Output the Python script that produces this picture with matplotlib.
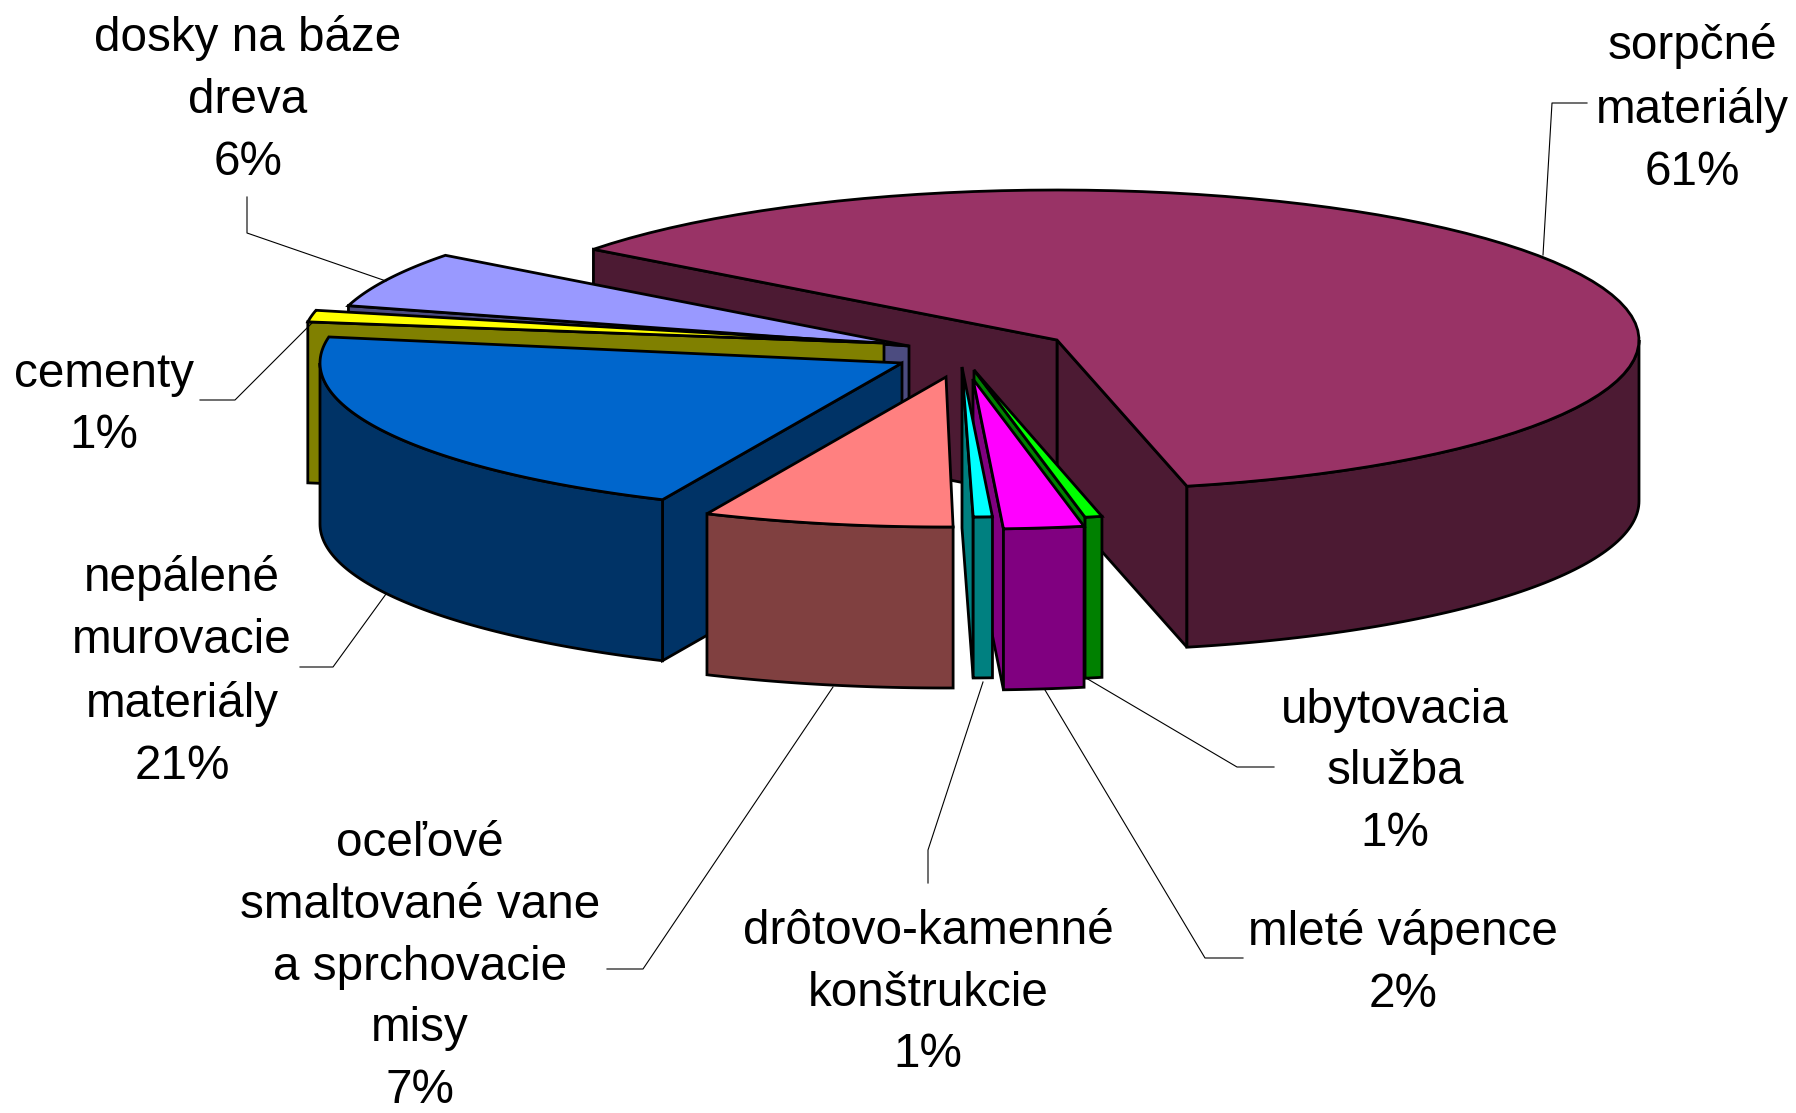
import numpy as np
from matplotlib import pyplot as plt
from matplotlib.patches import Polygon

# values in drawing order, clockwise from the big slice
labels = ["sorpčné\nmateriály", "ubytovacia\nslužba", "mleté vápence", "drôtovo-kamenné\nkonštrukcie",
          "oceľové\nsmaltované vane\na sprchovacie\nmisy", "nepálené\nmurovacie\nmateriály", "cementy",
          "dosky na báze\ndreva"]
values = [61, 1, 2, 1, 7, 21, 1, 6]
top_colors = ["#993366", "#00FF00", "#FF00FF", "#00FFFF", "#FF8080", "#0066CC", "#FFFF00", "#9999FF"]
side_colors = ["#4C1A33", "#008000", "#800080", "#008080", "#804040", "#003366", "#808000", "#4C4C80"]

# pie geometry in pixels
cx, cy = 976, 353
rx, ry = 582, 150
depth = 161
start = 142.8

# explode offset of each slice, and the perspective correction of its two edge angles
explode_x = [81, -2, -3, -14, -30, -74, -92, -67]
explode_y = [-13, 17, 26, 14, 24, 10, -10, -7]
fix_start = [-0.3, 1.4, 0.6, 2.3, 2.15, 2, 3, 0]
fix_end = [0, -0.5, 1.4, 0.6, 1.9, 2.1, 3.9, 0]
draw_order = [0, 7, 6, 5, 4, 1, 2, 3]

# label text position and leader line of each slice
text_x = [1692, 1395, 1403, 928, 420, 182, 104, 248]
text_y = [109, 772, 963, 993, 967, 672, 405, 100]
lead_x = [[1587, 1552, 1543], [1274, 1237, 1086], [1243, 1205, 1045], [928, 928, 983],
          [607, 643, 833], [300, 333, 386], [200, 235, 313], [247, 247, 386]]
lead_y = [[103, 103, 255], [767, 767, 678], [958, 958, 690], [883, 850, 682],
          [969, 969, 687], [667, 667, 594], [400, 400, 322], [197, 233, 281]]

plt.rcParams['font.family'] = ['Liberation Sans', 'DejaVu Sans']
fig = plt.figure(figsize=(17.96, 11.13), dpi=100)
ax = fig.add_axes([0, 0, 1, 1])
ax.set_xlim(0, 1796)
ax.set_ylim(1113, 0)
ax.axis('off')

# angles of the slices, going clockwise
t_end = []
t_start = []
pos = start
for v in values:
    t_end.append(pos)
    pos = pos - v * 3.6
    t_start.append(pos)


def arc(px, py, a1, a2):
    t = np.radians(np.linspace(a1, a2, 80))
    return np.column_stack([px + rx * np.cos(t), py - ry * np.sin(t)])


def add_poly(pts, color, z):
    ax.add_patch(Polygon(pts, closed=True, facecolor=color, edgecolor='black', linewidth=2.0,
                         joinstyle='miter', zorder=z))


z = 2
for i in draw_order:
    a1 = t_start[i] + fix_start[i]
    a2 = t_end[i] + fix_end[i]
    # the big slice goes from below zero, the rest sit in 0..360
    if i != 0:
        a1 = a1 % 360
        a2 = a2 % 360
        if a2 < a1:
            a2 = a2 + 360
    px = cx + explode_x[i]
    py = cy + explode_y[i]
    apex = np.array([[px, py]])
    shift = np.array([0, depth])

    # cut faces that look towards the viewer
    for a, seen in [(a1, np.cos(np.radians(a1)) > 0), (a2, np.cos(np.radians(a2)) < 0)]:
        if seen:
            corner = arc(px, py, a, a)[:1]
            add_poly(np.vstack([apex, corner, corner + shift, apex + shift]), side_colors[i], z)
            z += 1

    # outer wall, only the part on the front half
    for k in [-1, 0, 1]:
        lo = max(a1, 180 + 360 * k)
        hi = min(a2, 360 + 360 * k)
        if lo < hi:
            rim = arc(px, py, lo, hi)
            add_poly(np.vstack([rim, (rim + shift)[::-1]]), side_colors[i], z)
            z += 1

    add_poly(np.vstack([apex, arc(px, py, a1, a2)]), top_colors[i], z)
    z += 1

for i in range(len(values)):
    ax.plot(lead_x[i], lead_y[i], color='black', linewidth=0.8, zorder=z + 1)
    ax.text(text_x[i], text_y[i], labels[i] + "\n" + str(values[i]) + "%", ha='center', va='center',
            multialignment='center', fontsize=34.3, linespacing=1.485, color='black', zorder=z + 2)

plt.savefig("out.png", dpi=100)
